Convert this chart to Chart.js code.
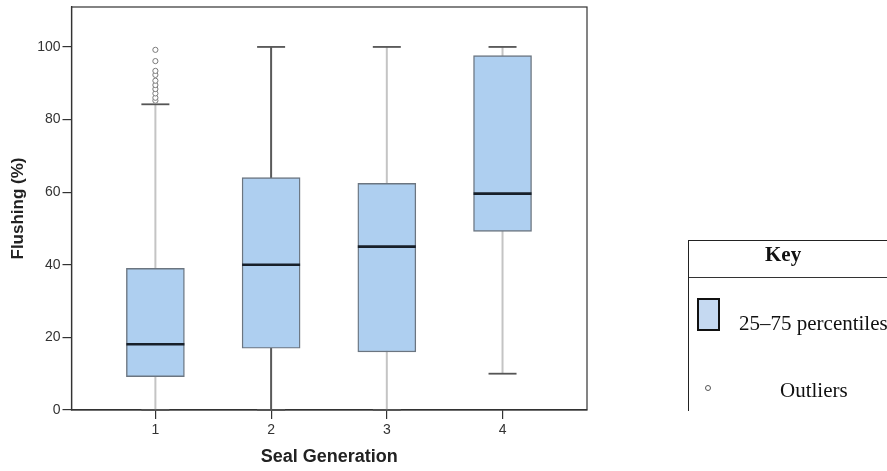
<!DOCTYPE html>
<html>
<head>
<meta charset="utf-8">
<script src="https://cdn.jsdelivr.net/npm/chart.js@4/dist/chart.umd.min.js"></script>
<style>
html, body { margin:0; padding:0; background:#fff; overflow:hidden; width:887px; height:471px; }
#wrap { position:relative; width:887px; height:471px; overflow:hidden; }
#chart { position:absolute; left:0; top:0; }
.key { position:absolute; left:688px; top:240px; width:220px; height:170px; border-top:1px solid #222; border-left:1px solid #222; font-family:'Liberation Serif','Times New Roman',serif; color:#111; font-size:21px; line-height:24px; white-space:nowrap; }
.key span { position:absolute; }
.key .title { left:76px; top:1px; font-weight:bold; }
.key .sep { left:0; top:36px; width:220px; height:1px; background:#333; }
.key .swatch { left:8px; top:57px; width:23px; height:33px; box-sizing:border-box; border:2.5px solid #111; background:#c5d9f1; }
.key .dot { left:16px; top:144px; width:6px; height:6px; box-sizing:border-box; border:1px solid #555; border-radius:50%; background:#fff; }
.key .l1 { left:50px; top:70px; }
.key .l2 { left:91px; top:137px; }
</style>
</head>
<body>
<div id="wrap">
  <canvas id="chart" width="887" height="471"></canvas>
  <div class="key">
    <span class="title">Key</span>
    <span class="sep"></span>
    <span class="swatch"></span>
    <span class="l1">25–75 percentiles</span>
    <span class="dot"></span>
    <span class="l2">Outliers</span>
  </div>
</div>
<script>
// ---- data ----
const categories  = ['1', '2', '3', '4'];
const whiskerLow  = [0, 0, 0, 10];
const quartile1   = [9.2, 17, 16, 49.2];
const medians     = [18.1, 40, 45, 59.6];
const quartile3   = [39, 64, 62.4, 97.6];
const whiskerHigh = [84.2, 100, 100, 100];
const outlierCategory = '1';
const outlierValues = [85.2, 86, 87.2, 88.4, 89.5, 90.7, 92.3, 93.4, 96.1, 99.2];
const yTickValues = [0, 20, 40, 60, 80, 100];

// ---- styles ----
const whiskerColors = ['#c4c4c4', '#5a5a5a', '#c4c4c4', '#c4c4c4'];
const boxFill = '#aecff0';

const xOf = i => i + 1;
const datasets = [];
categories.forEach((c, i) => {
  datasets.push({
    type: 'line',
    data: [{x: xOf(i), y: whiskerLow[i]}, {x: xOf(i), y: whiskerHigh[i]}],
    borderColor: whiskerColors[i], borderWidth: 2, pointRadius: 0, order: 5, clip: false
  });
});
datasets.push({
  type: 'bar',
  data: categories.map((c, i) => ({x: xOf(i), y: [quartile1[i], quartile3[i]]})),
  backgroundColor: boxFill, borderColor: '#6b7580', borderWidth: 1.4,
  borderSkipped: false, barThickness: 58, order: 4
});
datasets.push({
  type: 'scatter',
  data: categories.map((c, i) => ({x: xOf(i), y: medians[i]})),
  pointStyle: 'line', pointRadius: 29, borderColor: '#18202a', borderWidth: 2.6, order: 3, clip: false
});
datasets.push({
  type: 'scatter',
  data: categories.map((c, i) => ({x: xOf(i), y: whiskerHigh[i]}))
        .concat(categories.map((c, i) => ({x: xOf(i), y: whiskerLow[i]}))),
  pointStyle: 'line', pointRadius: 14, borderColor: '#555', borderWidth: 1.8, order: 3, clip: false
});
datasets.push({
  type: 'scatter',
  data: outlierValues.map(v => ({x: categories.indexOf(outlierCategory) + 1, y: v})),
  pointStyle: 'circle', pointRadius: 2.6, borderColor: '#7a7a7a', backgroundColor: '#fff',
  borderWidth: 1, order: 1, clip: false
});

const framePlugin = {
  id: 'frame',
  beforeDatasetsDraw(chart) {
    const {ctx, chartArea: a} = chart;
    ctx.save();
    ctx.strokeStyle = '#333';
    ctx.lineWidth = 1.2;
    ctx.strokeRect(a.left, a.top, a.right - a.left, a.bottom - a.top);
    ctx.restore();
  }
};

new Chart(document.getElementById('chart'), {
  type: 'bar',
  data: { datasets },
  plugins: [framePlugin],
  options: {
    responsive: false,
    animation: false,
    events: [],
    devicePixelRatio: 1,
    layout: { autoPadding: false, padding: { left: 0, top: 7, right: 300, bottom: 0 } },
    plugins: { legend: { display: false }, tooltip: { enabled: false } },
    scales: {
      x: {
        type: 'linear', min: 0.275, max: 4.73, offset: false,
        grid: { display: true, offset: false, drawOnChartArea: false, drawTicks: true, tickLength: 9, tickColor: '#333', lineWidth: 1.2 },
        border: { display: true, color: '#333', width: 1.3 },
        afterBuildTicks: s => { s.ticks = categories.map((c, i) => ({value: xOf(i)})); },
        afterFit: s => { s.height = 61; s.paddingLeft = 0; s.paddingRight = 0; },
        ticks: {
          padding: 3, color: '#333', font: { family: 'Liberation Sans', size: 14 },
          maxRotation: 0, autoSkip: false,
          callback: v => categories[v - 1]
        },
        title: { display: true, text: 'Seal Generation', color: '#222',
                 font: { family: 'Liberation Sans', size: 18, weight: 'bold' }, padding: { top: 4, bottom: 3 } }
      },
      y: {
        type: 'linear', min: 0, max: 111,
        grid: { display: true, drawOnChartArea: false, drawTicks: true, tickLength: 9, tickColor: '#333', lineWidth: 1.2 },
        border: { display: true, color: '#333', width: 1.3 },
        afterBuildTicks: s => { s.ticks = yTickValues.map(v => ({value: v})); },
        afterFit: s => { s.width = 71.5; s.paddingTop = 0; s.paddingBottom = 0; },
        ticks: {
          padding: 2, color: '#333', font: { family: 'Liberation Sans', size: 14 },
          autoSkip: false, callback: v => String(v)
        },
        title: { display: true, text: 'Flushing (%)', color: '#222',
                 font: { family: 'Liberation Sans', size: 17, weight: 'bold' }, padding: { top: 8.5, bottom: 4 } }
      }
    }
  }
});
</script>
</body>
</html>
